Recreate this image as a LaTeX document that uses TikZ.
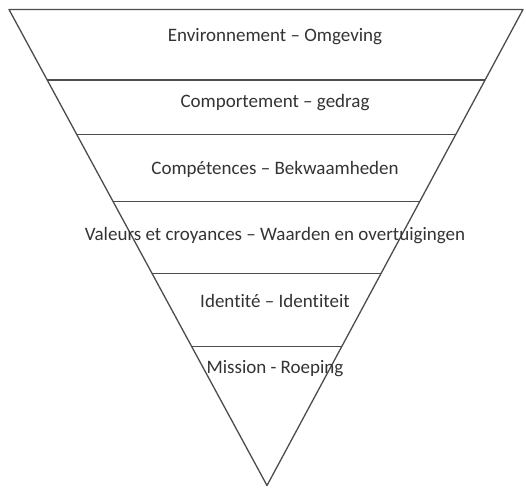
\documentclass[tikz,border=0pt]{standalone}
\usepackage{fontspec}
\setmainfont{Carlito}[Ligatures=NoCommon]
\usetikzlibrary{calc}
\tikzset{
  rim/.style={draw=black!70, line width=1.3pt, line join=round},
  layer/.style={draw=black!70, line width=1.3pt},
  lbl/.style={font=\fontsize{19}{22}\selectfont, text=black!80, inner sep=0pt, anchor=base}
}
\begin{document}
\begin{tikzpicture}[x=1pt, y=-1pt]
  \useasboundingbox (0,0) rectangle (526,488);
  \coordinate (tl) at (9,9.5);
  \coordinate (tr) at (523,9.5);
  \coordinate (apex) at (267,485.5);

  % inverted triangle
  \draw[rim] (tl) -- (tr) -- (apex) -- cycle;

  % layer boundaries
  \draw[layer] ($(tl)!0.148!(apex)$) -- ($(tr)!0.148!(apex)$);
  \draw[layer] ($(tl)!0.263!(apex)$) -- ($(tr)!0.263!(apex)$);
  \draw[layer] ($(tl)!0.403!(apex)$) -- ($(tr)!0.403!(apex)$);
  \draw[layer] ($(tl)!0.555!(apex)$) -- ($(tr)!0.555!(apex)$);
  \draw[layer] ($(tl)!0.708!(apex)$) -- ($(tr)!0.708!(apex)$);

  \node[lbl] (env) at (275,41.7) {Environnement – Omgeving};
  \node[lbl] (beh) at (275,107.5) {Comportement – gedrag};
  \node[lbl] (comp) at (275,174) {Compétences – Bekwaamheden};
  \node[lbl] (val) at (275,240.7) {Valeurs et croyances – Waarden en overtuigingen};
  \node[lbl] (ident) at (275,307.5) {Identité – Identiteit};
  \node[lbl] (miss) at (275,373) {Mission - Roeping};
\end{tikzpicture}
\end{document}
